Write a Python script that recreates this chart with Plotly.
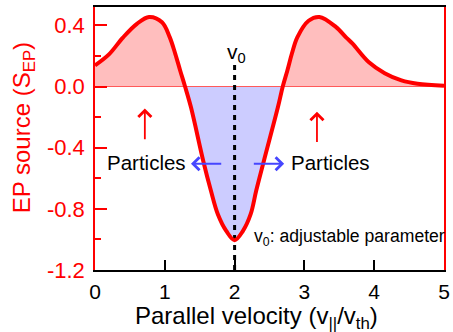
import plotly.graph_objects as go

# Curve
v = [0.0, 0.2, 0.4, 0.6, 0.775, 0.96, 1.07, 1.15, 1.22, 1.29, 1.375, 1.55, 1.66, 1.76, 1.88, 2.0,
     2.12, 2.23, 2.31, 2.42, 2.62, 2.69, 2.756, 2.82, 2.90, 3.06, 3.215, 3.45, 3.6, 3.69, 3.92,
     4.15, 4.39, 4.62, 5.0]
s = [0.138, 0.21, 0.32, 0.41, 0.455, 0.42, 0.323, 0.214, 0.105, 0.0, -0.136, -0.485, -0.68, -0.835, -0.944, -1.005,
     -0.944, -0.835, -0.68, -0.485, -0.136, 0.0, 0.105, 0.214, 0.323, 0.43, 0.455, 0.39, 0.32, 0.28, 0.16,
     0.087, 0.04, 0.018, 0.005]

v0 = 2.0
v0_line_top = 0.14
x_ticks = [0, 1, 2, 3, 4, 5]
y_ticks = [-1.2, -0.8, -0.4, 0.0, 0.4]
y_minor = [-1.0, -0.6, -0.2, 0.2]
y_range = [-1.2, 0.52]

FONT = "Liberation Sans, Arial, sans-serif"
RED = "#ff0000"
BLUE = "#4646ff"
PINK_FILL = "rgb(255,190,190)"
BLUE_FILL = "rgb(204,204,255)"

split = (0 - y_range[0]) / (y_range[1] - y_range[0])  # colorscale fraction where S=0

fig = go.Figure()
fig.add_trace(go.Scatter(
    x=v, y=s, mode="lines", line=dict(width=0, shape="spline"),
    fill="tozeroy", hoverinfo="skip",
    fillgradient=dict(type="vertical", start=y_range[0], stop=y_range[1],
                      colorscale=[[0, BLUE_FILL], [split, BLUE_FILL], [split, PINK_FILL], [1, PINK_FILL]])))
fig.add_trace(go.Scatter(x=[v[0], v[-1]], y=[0, 0], mode="lines",
                         line=dict(color="#ff5a5a", width=1)))
fig.add_trace(go.Scatter(x=[v0, v0], y=[y_range[0], v0_line_top], mode="lines",
                         line=dict(color="black", width=3, dash="5px,5px")))
fig.add_trace(go.Scatter(x=v, y=s, mode="lines", line=dict(color=RED, width=4, shape="spline")))

ann = []
ann.append(dict(text="EP source (S<sub>EP</sub>)", xref="paper", yref="y", x=-0.205, y=-0.27,
                textangle=-90, showarrow=False, font=dict(size=24, color=RED, family=FONT),
                xanchor="center", yanchor="middle"))
ann.append(dict(text="Parallel velocity (v<sub>||</sub>/v<sub>th</sub>)", xref="x", yref="paper",
                x=2.32, y=-0.18, showarrow=False, font=dict(size=24, color="black", family=FONT),
                xanchor="center", yanchor="middle"))
ann.append(dict(text="v<sub>0</sub>", x=2.03, y=0.22, showarrow=False,
                font=dict(size=21, color="black", family=FONT)))
ann.append(dict(text="v<sub>0</sub>: adjustable parameter", x=2.25, y=-0.99, showarrow=False,
                xanchor="left", font=dict(size=17.6, color="black", family=FONT)))
ann.append(dict(text="Particles", x=0.732, y=-0.496, showarrow=False,
                font=dict(size=20.5, color="black", family=FONT)))
ann.append(dict(text="Particles", x=3.376, y=-0.496, showarrow=False,
                font=dict(size=20.5, color="black", family=FONT)))
arrow_common = dict(xref="x", yref="y", axref="x", ayref="y", text="", showarrow=True,
                    arrowhead=4, arrowsize=1.4, arrowwidth=1.8)
ann.append(dict(x=0.714, y=-0.143, ax=0.714, ay=-0.354, arrowcolor=RED, **arrow_common))
ann.append(dict(x=3.18, y=-0.165, ax=3.18, ay=-0.372, arrowcolor=RED, **arrow_common))
ann.append(dict(x=1.375, y=-0.505, ax=1.83, ay=-0.505, arrowcolor=BLUE, **arrow_common))
ann.append(dict(x=2.71, y=-0.505, ax=2.254, ay=-0.505, arrowcolor=BLUE, **arrow_common))

fig.update_layout(
    width=453, height=332,
    margin=dict(l=95, r=3, t=7, b=62),
    plot_bgcolor="white", paper_bgcolor="white",
    showlegend=False,
    annotations=ann,
    font=dict(family=FONT),
)
fig.update_xaxes(range=[0, 5], tickvals=x_ticks, ticktext=[str(t) for t in x_ticks],
                 showgrid=False, zeroline=False, showline=True, linecolor="black", linewidth=1.8,
                 mirror=True, ticks="inside", ticklen=10, tickwidth=1.5, tickcolor="black",
                 tickfont=dict(size=21, color="black", family=FONT), ticklabelstandoff=2,
                 ticklabeloverflow="allow")
fig.update_yaxes(range=y_range, tickvals=y_ticks, ticktext=[f"{t:.1f}" for t in y_ticks],
                 showgrid=False, zeroline=False, showline=True, linecolor=RED, linewidth=1.5,
                 mirror=True, ticks="inside", ticklen=12, tickwidth=1.5, tickcolor=RED,
                 tickfont=dict(size=22, color=RED, family=FONT), ticklabelstandoff=4,
                 minor=dict(tickvals=y_minor, ticks="inside", ticklen=6, tickwidth=1.5, tickcolor=RED))

fig.write_html("out.html")
